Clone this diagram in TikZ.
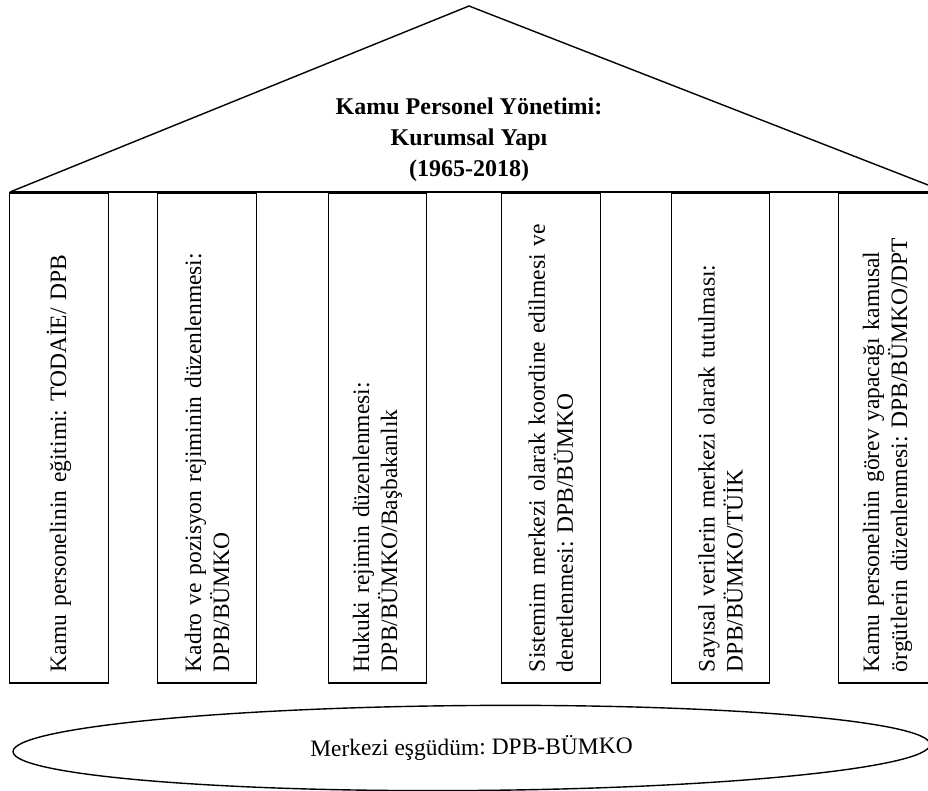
\documentclass[tikz,border=0pt]{standalone}
\usepackage{fontspec}
\setmainfont{Liberation Serif}
\usetikzlibrary{shapes.geometric}
\frenchspacing
\tikzset{
  thinline/.style={line width=1.4pt, black},
  pillar/.style={draw, thinline, rectangle, rotate=90,
    minimum width=490pt, minimum height=98.5pt,
    text width=468pt, inner xsep=11pt, inner ysep=0pt, align=left,
    font=\fontsize{23.5}{28}\selectfont\frenchspacing},
  roof/.style={thinline, line join=miter},
  baseline/.style={line width=2.2pt, black},
  titletext/.style={align=center, inner sep=0pt,
    font=\fontsize{24}{31}\selectfont\bfseries\frenchspacing},
  basis/.style={draw, thinline, ellipse, inner sep=0pt,
    minimum width=917pt, minimum height=85pt,
    font=\fontsize{23.5}{28}\selectfont\frenchspacing}
}
\begin{document}
\begin{tikzpicture}[x=1pt, y=-1pt]
\useasboundingbox (0,0) rectangle (928,791);
\clip (0,0) rectangle (928,791);
% roof
\coordinate (apex) at (469,6);
\coordinate (roofL) at (10,192);
\coordinate (roofR) at (946,192);
\draw[roof] (roofL) -- (apex) -- (roofR);
\draw[baseline] (roofL) -- (roofR);
\node[titletext] (title) at (469,140)
  {Kamu Personel Yönetimi:\\ Kurumsal Yapı\\ (1965-2018)};
% pillars
\node[pillar] (p1) at (59,438)
  {Kamu personelinin eğitimi: TODAİE/ DPB};
\node[pillar] (p2) at (207,438)
  {Kadro ve pozisyon rejiminin düzenlenmesi:\\ DPB/BÜMKO};
\node[pillar] (p3) at (377.5,438)
  {Hukuki rejimin düzenlenmesi:\\ DPB/BÜMKO/Başbakanlık};
\node[pillar] (p4) at (551,438)
  {Sistemim merkezi olarak koordine edilmesi ve\\ denetlenmesi: DPB/BÜMKO};
\node[pillar] (p5) at (720.5,438)
  {Sayısal verilerin merkezi olarak tutulması:\\ DPB/BÜMKO/TÜİK};
\node[pillar] (p6) at (887.5,438)
  {Kamu personelinin görev yapacağı kamusal\\ örgütlerin düzenlenmesi: DPB/BÜMKO/DPT};
% foundation
\node[basis, rotate=0.45] (base) at (471.5,748)
  {Merkezi eşgüdüm: DPB-BÜMKO};
\end{tikzpicture}
\end{document}
